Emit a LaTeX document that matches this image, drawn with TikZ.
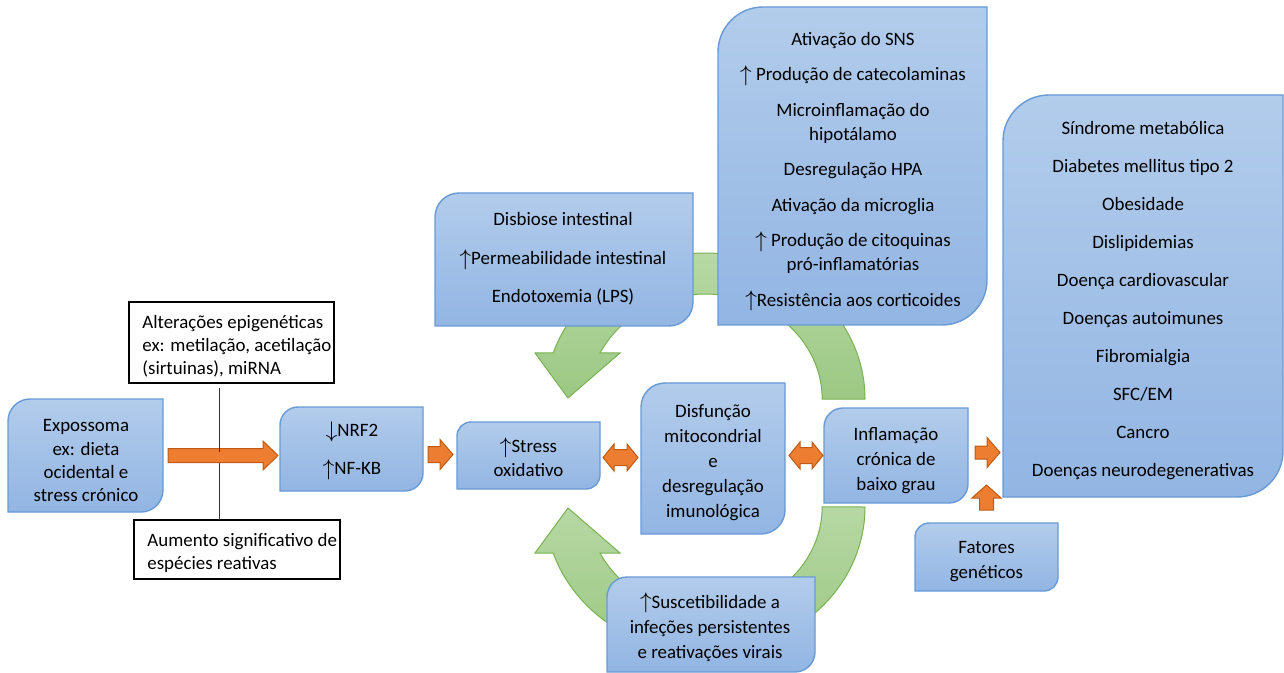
\documentclass[tikz,border=0pt]{standalone}
\usepackage{fontspec}
\usepackage{graphicx}
\setmainfont{Carlito}
\usetikzlibrary{calc}
\definecolor{bxtop}{RGB}{178,204,235}
\definecolor{bxbot}{RGB}{146,181,227}
\definecolor{bxline}{RGB}{104,154,213}
\definecolor{grtop}{RGB}{183,216,164}
\definecolor{grbot}{RGB}{155,200,131}
\definecolor{grline}{RGB}{120,178,82}
\definecolor{orfill}{RGB}{237,125,49}
\definecolor{orline}{RGB}{190,90,20}
\tikzset{
 bluebox/.style={top color=bxtop, bottom color=bxbot, draw=bxline, line width=0.7pt},
 greenA/.style={top color=grtop, bottom color=grbot, draw=grline, line width=0.5pt},
 orangeA/.style={fill=orfill, draw=orline, line width=0.5pt, line join=miter},
 area/.style={inner sep=0pt, outer sep=0pt},
 txt/.style={align=center, inner sep=0pt, font=\fontsize{9.45}{12.4}\selectfont},
 ltxt/.style={align=left, anchor=west, inner sep=0pt, font=\fontsize{9.45}{11.6}\selectfont},
 wbox/.style={draw=black, line width=0.6pt, fill=white},
 vline/.style={draw=black!80, line width=0.5pt},
}
\newcommand\ua{\raisebox{-0.3pt}{\scalebox{1.25}{$\uparrow$}}}
\newcommand\da{\raisebox{-0.3pt}{\scalebox{1.25}{$\downarrow$}}}
% name x1 y1 x2 y2 r
\newcommand\blubox[6]{%
 \path[bluebox] (#2,#3+#6) arc[start angle=180,end angle=270,radius=#6] -- (#4,#3) -- (#4,#5-#6) arc[start angle=0,end angle=90,radius=#6] -- (#2,#5) -- cycle;
 \node[area, minimum width={(#4-#2)*0.5pt}, minimum height={(#5-#3)*0.5pt}] (#1) at ({(#2+#4)/2},{(#3+#5)/2}) {};}
% start, end, body half, head half, head length (px)
\newcommand\rarrow[5]{%
 \path[orangeA] let \p1=(#1), \p2=(#2) in
 (\x1,\y1+#3*0.5pt) -- (\x2-#5*0.5pt,\y1+#3*0.5pt) -- (\x2-#5*0.5pt,\y1+#4*0.5pt) -- (\x2,\y1)
 -- (\x2-#5*0.5pt,\y1-#4*0.5pt) -- (\x2-#5*0.5pt,\y1-#3*0.5pt) -- (\x1,\y1-#3*0.5pt) -- cycle;}
\newcommand\darrow[5]{%
 \path[orangeA] let \p1=(#1), \p2=(#2) in
 (\x1,\y1) -- (\x1+#5*0.5pt,\y1+#4*0.5pt) -- (\x1+#5*0.5pt,\y1+#3*0.5pt) -- (\x2-#5*0.5pt,\y1+#3*0.5pt)
 -- (\x2-#5*0.5pt,\y1+#4*0.5pt) -- (\x2,\y1) -- (\x2-#5*0.5pt,\y1-#4*0.5pt) -- (\x2-#5*0.5pt,\y1-#3*0.5pt)
 -- (\x1+#5*0.5pt,\y1-#3*0.5pt) -- (\x1+#5*0.5pt,\y1-#4*0.5pt) -- cycle;}
\newcommand\uarrow[5]{%
 \path[orangeA] let \p1=(#1), \p2=(#2) in
 (\x1-#3*0.5pt,\y1) -- (\x1-#3*0.5pt,\y2-#5*0.5pt) -- (\x1-#4*0.5pt,\y2-#5*0.5pt) -- (\x1,\y2)
 -- (\x1+#4*0.5pt,\y2-#5*0.5pt) -- (\x1+#3*0.5pt,\y2-#5*0.5pt) -- (\x1+#3*0.5pt,\y1) -- cycle;}
\begin{document}
\begin{tikzpicture}[x=0.5pt,y=-0.5pt]
\useasboundingbox (0,0) rectangle (1284,673);
% green circular arrows
\path[greenA] (865,399) arc[start angle=0,end angle=-161.6,x radius=160,y radius=146]
  -- (535,353) -- (568,398) -- (620,353) -- (600,353)
  arc[start angle=-154,end angle=0,x radius=117,y radius=105] -- cycle;
\path[greenA] (865,507) arc[start angle=0,end angle=161.6,x radius=160,y radius=146]
  -- (535,553) -- (568,508) -- (620,553) -- (600,553)
  arc[start angle=154,end angle=0,x radius=117,y radius=105] -- cycle;
% blue boxes
\blubox{expo}{8}{399}{163}{512}{22}
\blubox{nrf}{280}{407}{423}{491}{18}
\blubox{stress}{457}{422}{600}{489}{14}
\blubox{disf}{641}{383}{785}{534}{24}
\blubox{infl}{824}{408}{968}{503}{19}
\blubox{fat}{915}{523}{1058}{591}{14}
\blubox{doen}{1003}{95}{1283}{497}{46}
\blubox{sns}{718}{7}{987}{325}{45}
\blubox{disb}{435}{193}{693}{326}{24}
\blubox{susc}{607}{577}{815}{672}{20}
% white boxes
\node[wbox, area, minimum width=102.5pt, minimum height=40.5pt] (epi) at (231.5,342.5) {};
\node[wbox, area, minimum width=103pt, minimum height=29.5pt] (aum) at (237,549.5) {};
% vertical line
\coordinate (lt) at (219,388);
\coordinate (lm) at (219,452);
\coordinate (lb) at (219,520);
\draw[vline] (lt) -- (lb);
% orange arrows
\rarrow{$(expo.east)+(5,0)$}{$(expo.east -| nrf.west)+(-2,0)$}{7}{14.5}{15}
\draw[vline] (lt) -- (lm);
\rarrow{$(nrf.east |- stress.west)+(5,-1)$}{$(stress.west)+(-4,-1)$}{8}{15}{13}
\darrow{$(stress.east)+(3,2)$}{$(stress.east -| disf.west)+(-3,2)$}{8}{13.5}{11}
\darrow{$(disf.east |- infl.west)+(4,0)$}{$(infl.west)+(-1,0)$}{8}{13.5}{11}
\rarrow{$(infl.east)+(7,-3)$}{$(infl.east -| doen.west)+(-3,-3)$}{6.5}{15}{13}
\uarrow{$(fat.north)+(0,-13)$}{$(fat.north |- doen.south)+(0,-12)$}{7}{14.5}{13}
% texts
\node[txt, font=\fontsize{9.45}{11.65}\selectfont] (texpo) at (86,462) {\strut Expossoma\\ex: dieta\\ocidental e\\stress crónico\strut};
\node[ltxt] (tepi) at (142,347) {\strut Alterações epigenéticas\\ex: metilação, acetilação\\(sirtuinas), miRNA\strut};
\node[ltxt] (taum) at (147,553) {\strut Aumento significativo de\\espécies reativas\strut};
\node[txt] (tnrf) at (352,451) {\strut\da NRF2\\[6.6pt]\ua NF-KB\strut};
\node[txt, font=\fontsize{9.45}{12}\selectfont] (tstress) at (528.5,460) {\strut\ua Stress\\oxidativo\strut};
\node[txt, font=\fontsize{9.45}{12.6}\selectfont] (tdisf) at (713,462.5) {\strut Disfunção\\mitocondrial\\e\\desregulação\\imunológica\strut};
\node[txt, font=\fontsize{9.45}{12.5}\selectfont] (tinfl) at (896,460) {\strut Inflamação\\crónica de\\baixo grau\strut};
\node[txt, font=\fontsize{9.45}{12.5}\selectfont] (tfat) at (986.5,560.5) {\strut Fatores\\genéticos\strut};
\node[txt] (tdoen) at (1143,300.5) {\strut Síndrome metabólica\\[6.55pt]Diabetes mellitus tipo 2\\[6.55pt]Obesidade\\[6.55pt]Dislipidemias\\[6.55pt]Doença cardiovascular\\[6.55pt]Doenças autoimunes\\[6.55pt]Fibromialgia\\[6.55pt]SFC/EM\\[6.55pt]Cancro\\[6.55pt]Doenças neurodegenerativas\strut};
\node[txt, font=\fontsize{9.45}{11.8}\selectfont] (tsns) at (853,171) {\strut Ativação do SNS\\[6pt]\ua\ Produção de catecolaminas\\[6pt]Microinflamação do\\hipotálamo\\[6pt]Desregulação HPA\\[6pt]Ativação da microglia\\[6pt]\ua\ Produção de citoquinas\\pró-inflamatórias\\[6pt]\ua Resistência aos corticoides\strut};
\node[txt] (tdisb) at (563,259.5) {\strut Disbiose intestinal\\[6.85pt]\ua Permeabilidade intestinal\\[6.85pt]Endotoxemia (LPS)\strut};
\node[txt, font=\fontsize{9.45}{12.5}\selectfont] (tsusc) at (710,628) {\strut\ua Suscetibilidade a\\infeções persistentes\\e reativações virais\strut};
\end{tikzpicture}
\end{document}
